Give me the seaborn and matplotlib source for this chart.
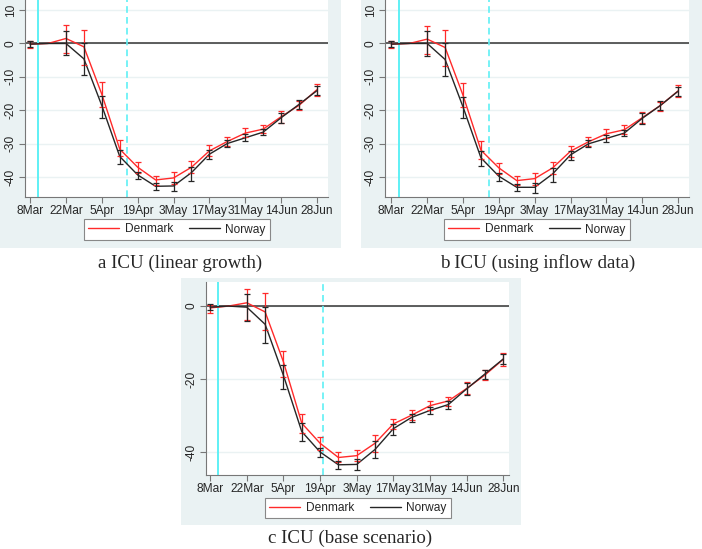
import numpy as np
import pandas as pd
import matplotlib
matplotlib.use("Agg")
import matplotlib.pyplot as plt
from matplotlib.patches import Rectangle
import seaborn as sns

# weekly points, 8 Mar - 28 Jun 2020 (15 Mar is the reference week, no CI)
dates = pd.date_range("2020-03-08", periods=17, freq="7D")
tick_dates = pd.date_range("2020-03-08", periods=9, freq="14D")
tick_labels = ["8Mar", "22Mar", "5Apr", "19Apr", "3May", "17May", "31May", "14Jun", "28Jun"]
nan = np.nan

# a ICU (linear growth)
dk_a = [-0.2, 0, 1.5, -1.0, -15.2, -31.6, -37.0, -40.8, -40.2, -37.0, -32.1, -29.3, -26.8, -25.6, -21.9, -18.5, -13.8]
dk_a_lo = [-1.5, nan, -2.7, -6.3, -18.9, -33.6, -38.8, -42.2, -42.0, -38.8, -33.6, -30.6, -28.1, -26.9, -23.7, -19.9, -15.7]
dk_a_hi = [0.8, nan, 5.4, 4.0, -11.6, -29.0, -35.3, -39.5, -38.3, -35.2, -30.4, -27.9, -25.4, -24.4, -20.2, -17.2, -12.1]
no_a = [-0.2, 0, 0, -4.6, -18.6, -33.8, -39.3, -42.7, -42.6, -38.6, -33.1, -29.9, -28.2, -26.5, -22.2, -18.2, -14.1]
no_a_lo = [-1.0, nan, -3.3, -9.3, -22.2, -36.1, -40.5, -43.7, -44.2, -41.0, -34.4, -31.1, -29.1, -27.4, -23.9, -19.5, -15.5]
no_a_hi = [0.7, nan, 3.8, 0.0, -15.7, -31.9, -38.3, -41.8, -41.5, -37.0, -31.9, -28.9, -27.1, -25.6, -20.7, -17.0, -12.6]

# b ICU (using inflow data)
dk_b = [-0.2, 0, 1.3, -1.2, -15.5, -31.9, -37.2, -41.0, -40.4, -37.2, -32.2, -29.4, -27.0, -25.8, -22.2, -18.6, -14.2]
dk_b_lo = [-1.3, nan, -3.1, -6.7, -19.1, -34.4, -39.1, -42.4, -42.2, -38.9, -33.9, -30.7, -28.2, -27.1, -23.9, -20.1, -15.9]
dk_b_hi = [0.8, nan, 5.3, 3.9, -11.7, -29.2, -35.6, -39.6, -38.6, -35.4, -30.6, -28.1, -25.6, -24.4, -20.4, -17.4, -12.4]
no_b = [-0.2, 0, 0, -4.8, -19.0, -34.2, -39.7, -43.0, -43.0, -39.0, -33.3, -30.0, -28.4, -26.8, -22.4, -18.6, -14.3]
no_b_lo = [-1.0, nan, -3.6, -9.6, -22.4, -36.6, -41.0, -44.1, -44.6, -41.4, -34.7, -31.1, -29.6, -27.7, -24.1, -20.0, -15.7]
no_b_hi = [0.6, nan, 3.8, 0.0, -15.9, -32.1, -38.7, -42.1, -41.7, -37.2, -32.1, -29.0, -27.4, -25.9, -20.9, -17.2, -12.9]

# c ICU (base scenario)
dk_c = [-0.5, 0, 0.9, -1.6, -15.3, -32.1, -37.6, -41.5, -41.0, -37.6, -32.3, -29.9, -27.3, -26.0, -22.6, -18.9, -14.6]
dk_c_lo = [-2.0, nan, -3.8, -6.6, -19.4, -34.9, -39.5, -42.8, -42.5, -39.9, -33.8, -31.1, -28.5, -27.3, -24.1, -20.3, -16.4]
dk_c_hi = [0.4, nan, 4.8, 3.5, -12.2, -29.6, -36.0, -40.1, -39.5, -35.3, -31.0, -28.5, -25.9, -24.8, -20.9, -17.5, -12.8]
no_c = [-0.3, 0, -0.3, -5.0, -19.0, -34.4, -40.0, -43.5, -43.4, -39.3, -33.6, -30.5, -28.6, -27.0, -22.7, -18.6, -14.5]
no_c_lo = [-1.2, nan, -4.0, -10.2, -22.6, -36.9, -41.3, -44.7, -44.9, -41.6, -35.2, -31.7, -29.6, -28.1, -24.4, -19.9, -15.9]
no_c_hi = [0.5, nan, 3.3, -0.2, -16.2, -32.1, -39.0, -42.5, -42.0, -36.9, -32.3, -29.6, -27.6, -26.1, -21.2, -17.4, -13.2]

lockdown = pd.Timestamp("2020-03-11")
reopen_ab = pd.Timestamp("2020-04-15")
reopen_c = pd.Timestamp("2020-04-20")

BG = "#EAF2F3"
RED = "#FF2A2A"
DARK = "#262626"
W, H = 702, 549

sns.set_style("white")
plt.rcParams["font.family"] = ["Liberation Sans", "DejaVu Sans"]


def px_rect(l, t, r, b):
    return [l / W, 1 - b / H, (r - l) / W, (b - t) / H]


def draw_panel(fig, box, dk, dk_lo, dk_hi, no, no_lo, no_hi, reopen,
               yticks, ylim, xpad, leg_center):
    ax = fig.add_axes(px_rect(*box))
    ax.set_facecolor("white")
    df = pd.DataFrame({"date": list(dates) * 2,
                       "value": dk + no,
                       "lo": dk_lo + no_lo,
                       "hi": dk_hi + no_hi,
                       "country": ["Denmark"] * 17 + ["Norway"] * 17})
    for y in yticks:
        ax.axhline(y, color=BG, lw=1.0, zorder=0)
    ax.axhline(0, color="#333333", lw=1.1, zorder=1)
    ax.axvline(lockdown, color="#5FF0F5", lw=1.4, zorder=1)
    ax.axvline(reopen, color="#5FF0F5", lw=1.2, ls=(0, (4, 2.5)), zorder=1)

    palette = {"Denmark": RED, "Norway": DARK}
    sns.lineplot(data=df, x="date", y="value", hue="country", palette=palette,
                 lw=1.0, ax=ax, zorder=3, legend=False)
    for name, col in palette.items():
        sub = df[(df["country"] == name) & df["lo"].notna()]
        ax.errorbar(sub["date"], (sub["lo"] + sub["hi"]) / 2,
                    yerr=(sub["hi"] - sub["lo"]) / 2, fmt="none",
                    ecolor=col, elinewidth=0.9, capsize=2.3, capthick=0.9,
                    zorder=4)

    ax.set_xlim(dates[0] - pd.Timedelta(days=xpad[0]),
                dates[-1] + pd.Timedelta(days=xpad[1]))
    ax.set_ylim(*ylim)
    ax.set_xticks(tick_dates)
    ax.set_xticklabels(tick_labels, fontsize=8.6)
    ax.set_yticks(yticks)
    ax.set_yticklabels([str(v) for v in yticks],
                       fontsize=8.6, rotation=90, va="center")
    ax.tick_params(axis="both", direction="out", length=4, width=0.8,
                   color="#777777", pad=2, bottom=True, left=True)
    ax.set_xlabel("")
    ax.set_ylabel("")
    for s in ["top", "right"]:
        ax.spines[s].set_visible(False)
    for s in ["left", "bottom"]:
        ax.spines[s].set_color("#777777")
        ax.spines[s].set_linewidth(0.8)

    handles = [plt.Line2D([], [], color=RED, lw=1.0),
               plt.Line2D([], [], color=DARK, lw=1.0)]
    leg = ax.legend(handles, ["Denmark", "Norway"], ncol=2,
                    loc="center", bbox_to_anchor=(leg_center[0] / W, 1 - leg_center[1] / H),
                    bbox_transform=fig.transFigure, fontsize=8.6, frameon=True,
                    fancybox=False, edgecolor="#888888", framealpha=1,
                    handlelength=2.6, columnspacing=1.3, handletextpad=0.45,
                    borderpad=0.35, borderaxespad=0)
    leg.get_frame().set_linewidth(0.8)
    return ax


fig = plt.figure(figsize=(W / 100, H / 100), dpi=100)

# grey panel backgrounds, kept behind the axes
for l, t, r, b in [(0, 0, 341, 248), (361, 0, 702, 248), (181, 278, 521, 525)]:
    fig.patches.append(Rectangle((l / W, 1 - b / H), (r - l) / W, (b - t) / H,
                                 transform=fig.transFigure, facecolor=BG,
                                 edgecolor="none", zorder=-10))

draw_panel(fig, (25, 0, 328, 197), dk_a, dk_a_lo, dk_a_hi, no_a, no_a_lo, no_a_hi,
           reopen_ab, [-40, -30, -20, -10, 0, 10], (-45.9, 13.0), (2.0, 4.3), (177, 229.5))
draw_panel(fig, (385, 0, 689, 197), dk_b, dk_b_lo, dk_b_hi, no_b, no_b_lo, no_b_hi,
           reopen_ab, [-40, -30, -20, -10, 0, 10], (-45.9, 13.0), (2.5, 4.3), (537, 229.5))
draw_panel(fig, (206, 282, 509, 475), dk_c, dk_c_lo, dk_c_hi, no_c, no_c_lo, no_c_hi,
           reopen_c, [-40, -20, 0], (-46.3, 6.6), (1.6, 2.2), (358, 508))

cap_font = ["Liberation Serif", "DejaVu Serif"]
fig.text(180 / W, 1 - 263 / H, "a ICU (linear growth)", ha="center", va="center",
         fontsize=13.6, family=cap_font)
fig.text(538 / W, 1 - 263 / H, "b ICU (using inflow data)", ha="center", va="center",
         fontsize=13.6, family=cap_font)
fig.text(350 / W, 1 - 538 / H, "c ICU (base scenario)", ha="center", va="center",
         fontsize=13.6, family=cap_font)

fig.savefig("out.png", dpi=100)
